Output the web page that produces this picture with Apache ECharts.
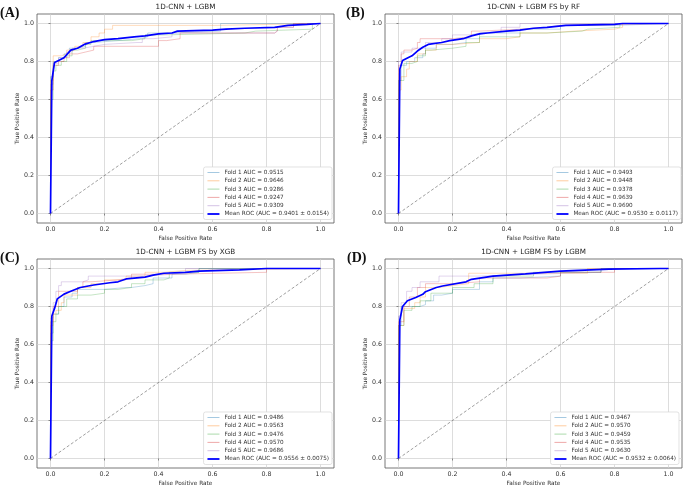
<!DOCTYPE html>
<html>
<head>
<meta charset="utf-8">
<script src="https://cdn.jsdelivr.net/npm/echarts@6/dist/echarts.min.js"></script>
<style>
  html, body { margin: 0; padding: 0; background: #fff; }
  #main { width: 685px; height: 490px; }
</style>
</head>
<body>
<div id="main"></div>
<script>
// axis ticks shared by every panel
var tickValues = [0, 0.2, 0.4, 0.6, 0.8, 1.0];
var diagonal = [[0, 0], [1, 1]];

// panel titles, labels and legend texts
var panelLetters = ['(A)', '(B)', '(C)', '(D)'];
var panelTitles = ['1D-CNN + LGBM', '1D-CNN + LGBM FS by RF', '1D-CNN + LGBM FS by XGB', '1D-CNN + LGBM FS by LGBM'];
var namesA = ['Fold 1 AUC = 0.9515', 'Fold 2 AUC = 0.9646', 'Fold 3 AUC = 0.9286', 'Fold 4 AUC = 0.9247', 'Fold 5 AUC = 0.9309', 'Mean ROC (AUC = 0.9401 \u00b1 0.0154)'];
var namesB = ['Fold 1 AUC = 0.9493', 'Fold 2 AUC = 0.9448', 'Fold 3 AUC = 0.9378', 'Fold 4 AUC = 0.9639', 'Fold 5 AUC = 0.9690', 'Mean ROC (AUC = 0.9530 \u00b1 0.0117)'];
var namesC = ['Fold 1 AUC = 0.9486', 'Fold 2 AUC = 0.9563', 'Fold 3 AUC = 0.9476', 'Fold 4 AUC = 0.9570', 'Fold 5 AUC = 0.9686', 'Mean ROC (AUC = 0.9556 \u00b1 0.0075)'];
var namesD = ['Fold 1 AUC = 0.9467', 'Fold 2 AUC = 0.9570', 'Fold 3 AUC = 0.9459', 'Fold 4 AUC = 0.9535', 'Fold 5 AUC = 0.9630', 'Mean ROC (AUC = 0.9532 \u00b1 0.0064)'];

// (A) 1D-CNN + LGBM   [fpr, tpr]
var foldA1 = [[0,0],[0,0.72],[0.01,0.8],[0.03,0.82],[0.05,0.84],[0.07,0.87],[0.1,0.88],[0.13,0.9],[0.16,0.91],[0.25,0.92],[0.33,0.93],[0.36,0.95],[0.45,0.96],[0.63,1.0],[1,1]];
var foldA2 = [[0,0],[0,0.7],[0.01,0.83],[0.04,0.84],[0.06,0.86],[0.09,0.88],[0.12,0.9],[0.15,0.93],[0.18,0.95],[0.2,0.97],[0.23,0.99],[0.62,1.0],[1,1]];
var foldA3 = [[0,0],[0,0.6],[0.01,0.75],[0.02,0.78],[0.04,0.8],[0.06,0.83],[0.08,0.86],[0.1,0.87],[0.13,0.89],[0.15,0.91],[0.3,0.92],[0.35,0.94],[0.42,0.95],[0.72,0.96],[0.76,0.97],[0.97,1.0],[1,1]];
var foldA4 = [[0,0],[0,0.65],[0.01,0.78],[0.03,0.8],[0.05,0.82],[0.07,0.84],[0.1,0.85],[0.13,0.86],[0.16,0.88],[0.38,0.88],[0.4,0.91],[0.43,0.92],[0.48,0.95],[0.83,0.96],[0.84,0.98],[0.9,1.0],[1,1]];
var foldA5 = [[0,0],[0,0.68],[0.01,0.79],[0.03,0.82],[0.06,0.85],[0.08,0.87],[0.12,0.88],[0.16,0.89],[0.2,0.9],[0.32,0.9],[0.34,0.92],[0.38,0.93],[0.45,0.95],[0.83,0.96],[0.84,0.98],[0.9,1.0],[1,1]];
var meanA = [[0,0],[0.005,0.7],[0.015,0.795],[0.03,0.805],[0.05,0.82],[0.075,0.86],[0.1,0.87],[0.125,0.89],[0.16,0.905],[0.2,0.915],[0.25,0.92],[0.31,0.93],[0.35,0.935],[0.4,0.945],[0.45,0.95],[0.47,0.96],[0.6,0.965],[0.65,0.97],[0.72,0.975],[0.83,0.98],[0.88,0.99],[0.95,0.995],[1,1]];

// (B) FS by RF
var foldB1 = [[0,0],[0,0.7],[0.01,0.78],[0.03,0.8],[0.06,0.82],[0.09,0.84],[0.1,0.87],[0.14,0.89],[0.2,0.9],[0.25,0.92],[0.3,0.95],[0.45,0.97],[0.6,0.99],[0.8,1.0],[1,1]];
var foldB2 = [[0,0],[0,0.65],[0.01,0.72],[0.03,0.76],[0.04,0.8],[0.07,0.84],[0.1,0.86],[0.14,0.89],[0.2,0.9],[0.3,0.92],[0.4,0.93],[0.45,0.95],[0.55,0.96],[0.65,0.97],[0.8,0.98],[0.83,1.0],[1,1]];
var foldB3 = [[0,0],[0,0.7],[0.02,0.79],[0.05,0.8],[0.07,0.83],[0.1,0.86],[0.12,0.87],[0.2,0.88],[0.25,0.9],[0.3,0.93],[0.45,0.95],[0.55,0.96],[0.68,0.97],[0.7,0.98],[0.82,1.0],[1,1]];
var foldB4 = [[0,0],[0,0.78],[0.01,0.84],[0.02,0.86],[0.05,0.87],[0.07,0.9],[0.08,0.92],[0.2,0.93],[0.27,0.96],[0.3,0.97],[0.45,0.98],[0.55,0.99],[0.6,1.0],[1,1]];
var foldB5 = [[0,0],[0,0.8],[0.01,0.85],[0.05,0.87],[0.1,0.9],[0.16,0.92],[0.2,0.94],[0.27,0.95],[0.3,0.96],[0.38,0.98],[0.45,1.0],[1,1]];
var meanB = [[0,0],[0.005,0.76],[0.015,0.805],[0.035,0.82],[0.05,0.83],[0.07,0.855],[0.09,0.875],[0.11,0.89],[0.16,0.9],[0.19,0.91],[0.24,0.92],[0.27,0.935],[0.3,0.945],[0.33,0.95],[0.4,0.96],[0.45,0.965],[0.5,0.975],[0.55,0.98],[0.62,0.99],[0.8,0.995],[0.83,1.0],[1,1]];

// (C) FS by XGB
var foldC1 = [[0,0],[0,0.66],[0.01,0.76],[0.03,0.8],[0.05,0.85],[0.08,0.87],[0.1,0.89],[0.2,0.9],[0.28,0.9],[0.3,0.91],[0.35,0.92],[0.38,0.95],[0.45,0.97],[0.5,0.98],[0.55,1.0],[1,1]];
var foldC2 = [[0,0],[0,0.7],[0.01,0.76],[0.02,0.78],[0.04,0.82],[0.05,0.86],[0.1,0.9],[0.15,0.92],[0.2,0.94],[0.28,0.96],[0.35,0.98],[0.42,0.99],[0.5,1.0],[1,1]];
var foldC3 = [[0,0],[0,0.62],[0.01,0.72],[0.02,0.76],[0.03,0.8],[0.06,0.84],[0.1,0.86],[0.15,0.87],[0.2,0.89],[0.25,0.9],[0.3,0.92],[0.35,0.94],[0.42,0.95],[0.44,0.98],[0.55,1.0],[1,1]];
var foldC4 = [[0,0],[0,0.72],[0.01,0.8],[0.03,0.88],[0.1,0.9],[0.12,0.93],[0.15,0.94],[0.25,0.95],[0.3,0.97],[0.45,0.98],[0.8,1.0],[1,1]];
var foldC5 = [[0,0],[0,0.74],[0.01,0.82],[0.02,0.88],[0.03,0.91],[0.04,0.93],[0.12,0.94],[0.14,0.96],[0.35,0.97],[0.45,0.98],[0.5,1.0],[1,1]];
var meanC = [[0,0],[0.005,0.75],[0.015,0.79],[0.025,0.84],[0.05,0.865],[0.075,0.88],[0.11,0.9],[0.16,0.913],[0.22,0.925],[0.25,0.93],[0.28,0.945],[0.35,0.955],[0.38,0.965],[0.42,0.975],[0.5,0.98],[0.55,0.986],[0.7,0.993],[0.8,1.0],[1,1]];

// (D) FS by LGBM
var foldD1 = [[0,0],[0,0.7],[0.01,0.8],[0.08,0.81],[0.1,0.83],[0.13,0.86],[0.16,0.87],[0.2,0.89],[0.3,0.93],[0.35,0.95],[0.45,0.96],[0.6,0.98],[0.75,1.0],[1,1]];
var foldD2 = [[0,0],[0,0.7],[0.02,0.79],[0.06,0.82],[0.08,0.85],[0.1,0.9],[0.15,0.91],[0.2,0.92],[0.26,0.975],[0.6,0.975],[0.7,1.0],[1,1]];
var foldD3 = [[0,0],[0,0.7],[0.02,0.78],[0.05,0.8],[0.08,0.83],[0.12,0.87],[0.2,0.9],[0.28,0.92],[0.35,0.96],[0.5,0.98],[0.75,1.0],[1,1]];
var foldD4 = [[0,0],[0,0.72],[0.02,0.8],[0.04,0.85],[0.07,0.9],[0.1,0.92],[0.2,0.93],[0.3,0.95],[0.55,0.96],[0.6,0.98],[0.8,1.0],[1,1]];
var foldD5 = [[0,0],[0,0.75],[0.01,0.82],[0.03,0.88],[0.05,0.9],[0.08,0.93],[0.15,0.96],[0.25,0.96],[0.3,0.97],[0.5,0.98],[0.75,1.0],[1,1]];
var meanD = [[0,0],[0.005,0.73],[0.015,0.8],[0.033,0.83],[0.064,0.847],[0.09,0.864],[0.1,0.878],[0.14,0.9],[0.163,0.908],[0.25,0.93],[0.27,0.943],[0.35,0.96],[0.47,0.972],[0.6,0.986],[0.78,0.997],[0.97,1.0],[1,1]];

var foldColors = ['#1f77b4', '#ff7f0e', '#2ca02c', '#d62728', '#9467bd'];
var font = 'DejaVu Sans';

var panels = [
	{ names: namesA, folds: [foldA1, foldA2, foldA3, foldA4, foldA5], mean: meanA, grid: { left: 37, top: 14 }, legend: { right: 353, top: 167 }, letter: [0, 6] },
	{ names: namesB, folds: [foldB1, foldB2, foldB3, foldB4, foldB5], mean: meanB, grid: { left: 385, top: 14 }, legend: { right: 4, top: 167 }, letter: [346, 6] },
	{ names: namesC, folds: [foldC1, foldC2, foldC3, foldC4, foldC5], mean: meanC, grid: { left: 37, top: 259 }, legend: { right: 353, top: 412 }, letter: [0, 251] },
	{ names: namesD, folds: [foldD1, foldD2, foldD3, foldD4, foldD5], mean: meanD, grid: { left: 385, top: 259 }, legend: { right: 6, top: 412 }, letter: [347, 251] }
];

var grids = [], xAxes = [], yAxes = [], legends = [], series = [], graphics = [];

function axisBase(i, name, gap) {
	return {
		gridIndex: i, type: 'value', min: -0.05, max: 1.05,
		name: name, nameLocation: 'middle', nameGap: gap,
		nameTextStyle: { fontFamily: font, fontSize: 5.8, color: '#333' },
		axisLine: { show: false },
		axisTick: { show: true, inside: false, length: 2, customValues: tickValues, lineStyle: { color: '#444', width: 0.6 } },
		axisLabel: { customValues: tickValues, fontFamily: font, fontSize: 6.3, color: '#333', margin: 3,
			formatter: function (v) { return v.toFixed(1); } },
		splitLine: { show: true, lineStyle: { color: '#cfcfcf', width: 0.7 } }
	};
}

for (var i = 0; i < panels.length; i++) {
	var p = panels[i];
	grids.push({ left: p.grid.left, top: p.grid.top, width: 297, height: 209, show: true, borderColor: '#555', borderWidth: 0.8, backgroundColor: '#fff' });
	xAxes.push(axisBase(i, 'False Positive Rate', 12));
	yAxes.push(axisBase(i, 'True Positive Rate', 16));

	series.push({
		type: 'line', xAxisIndex: i, yAxisIndex: i, data: diagonal, symbol: 'none', silent: true,
		lineStyle: { color: '#777', width: 0.7, type: [3, 2] }, z: 1
	});
	for (var k = 0; k < 5; k++) {
		series.push({
			name: p.names[k], type: 'line', xAxisIndex: i, yAxisIndex: i, data: p.folds[k],
			symbol: 'none', step: 'end', color: foldColors[k],
			lineStyle: { color: foldColors[k], width: 0.8, opacity: 0.35 }, z: 2
		});
	}
	series.push({
		name: p.names[5], type: 'line', xAxisIndex: i, yAxisIndex: i, data: p.mean,
		symbol: 'none', color: '#0000ff', lineStyle: { color: '#0000ff', width: 1.7 }, z: 3
	});

	// legend entries: a plain line sample, pale for the folds, strong for the mean
	var legendData = p.names.map(function (n, k) {
		return {
			name: n,
			itemStyle: { color: 'rgba(0,0,0,0)', borderWidth: 0 },
			lineStyle: k < 5 ? { color: foldColors[k], width: 1, opacity: 0.4 } : { color: '#0000ff', width: 1.8, opacity: 1 }
		};
	});
	legends.push({
		data: legendData, orient: 'vertical', right: p.legend.right, top: p.legend.top,
		itemWidth: 12, itemHeight: 7, itemGap: 1.3, padding: [2, 3, 2, 3],
		backgroundColor: '#fff', borderColor: '#d6d6d6', borderWidth: 0.7, borderRadius: 2,
		textStyle: { fontFamily: font, fontSize: 5.7, color: '#333', lineHeight: 7 },
		selectedMode: false
	});

	var cx = p.grid.left + 297 / 2;
	graphics.push({
		type: 'text', x: cx, y: p.grid.top - 7,
		style: { text: panelTitles[i], fontFamily: font, fontSize: 7.2, fill: '#222', textAlign: 'center', textVerticalAlign: 'middle' }
	});
	graphics.push({
		type: 'text', x: p.letter[0], y: p.letter[1],
		style: { text: panelLetters[i], fontFamily: 'Liberation Serif', fontWeight: 'bold', fontSize: 14, fill: '#111' }
	});
}

var option = {
	animation: false,
	backgroundColor: '#fff',
	grid: grids,
	xAxis: xAxes,
	yAxis: yAxes,
	legend: legends,
	series: series,
	graphic: graphics
};

var myChart = echarts.init(document.getElementById('main'));
myChart.setOption(option, true);
</script>
</body>
</html>
